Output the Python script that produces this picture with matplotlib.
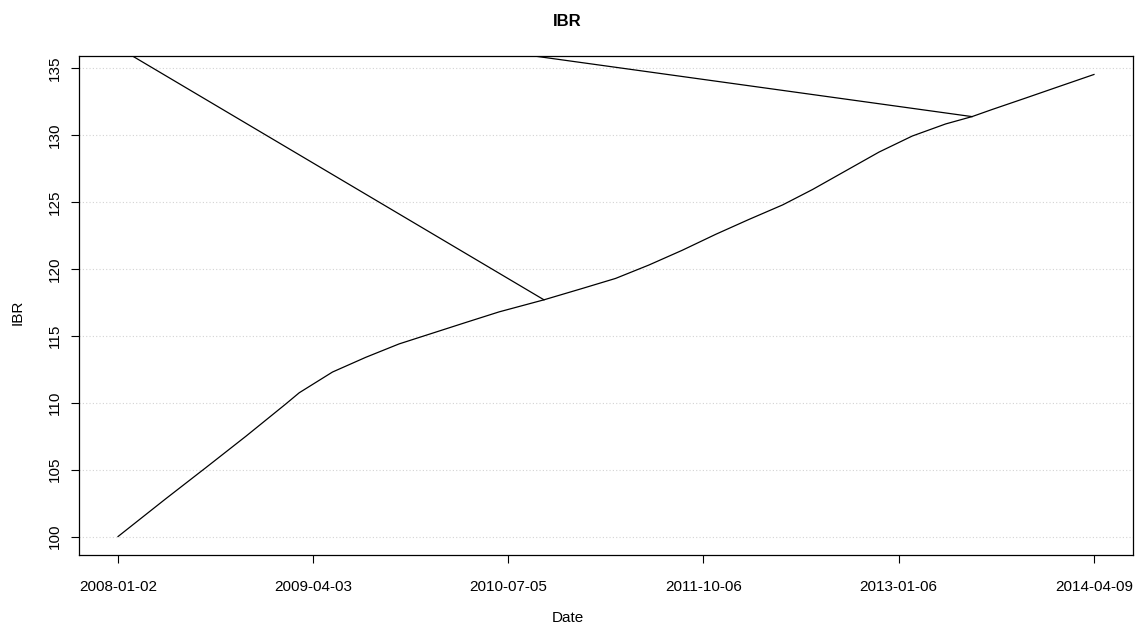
import numpy as np
import pandas as pd
from matplotlib import pyplot as plt
import matplotlib.dates as mdates

plt.rcParams['font.family'] = ['Liberation Sans', 'DejaVu Sans']

# IBR index (date, value)
dates = ['2008-01-02', '2008-04-22', '2008-07-26', '2008-10-28', '2009-01-29',
         '2009-03-02', '2009-05-19', '2009-08-05', '2009-10-22', '2010-01-08',
         '2010-03-27', '2010-06-14', '2010-09-27', '2010-12-27', '2011-03-14',
         '2011-05-31', '2011-08-17', '2011-11-04', '2012-01-20', '2012-04-09',
         '2012-06-18', '2012-09-04', '2012-11-21', '2013-02-07', '2013-04-26',
         '2013-06-27', '2013-08-13', '2013-10-31', '2014-01-17', '2014-04-09']
ibr = [100.0, 102.8, 105.15, 107.5, 109.9,
       110.75, 112.3, 113.4, 114.4, 115.2,
       116.0, 116.8, 117.7, 118.56, 119.3,
       120.3, 121.4, 122.6, 123.7, 124.8,
       125.95, 127.35, 128.75, 129.95, 130.85,
       131.4, 131.93, 132.79, 133.65, 134.55]

# rows out of order in the data -> straight jumps drawn across the plot
jump_dates = ['2010-09-27', '2008-01-02', '2010-07-05', '2013-06-27']
jump_ibr = [117.7, 136.57, 136.20, 131.4]

tick_labels = ['2008-01-02', '2009-04-03', '2010-07-05',
               '2011-10-06', '2013-01-06', '2014-04-09']
y_ticks = [100, 105, 110, 115, 120, 125, 130, 135]

x = pd.to_datetime(dates)
xj = pd.to_datetime(jump_dates)
xt = pd.to_datetime(tick_labels)

fig = plt.figure(figsize=(11.35, 6.29), dpi=100)
ax = fig.add_axes([79/1135, 1-555/629, 1054/1135, 499/629])

for yv in y_ticks:
    ax.axhline(yv, color='#d3d3d3', linestyle=(0, (1, 2)), linewidth=0.8, zorder=0)

ax.plot(x, ibr, color='black', linewidth=0.9)
ax.plot(xj, jump_ibr, color='black', linewidth=0.9)

# R style 4% padding on both axes
span = x[-1] - x[0]
ax.set_xlim(x[0] - span*0.04, x[-1] + span*0.04)
r = max(ibr) - min(ibr)
ax.set_ylim(min(ibr) - 0.04*r, max(ibr) + 0.04*r)

ax.set_xticks(xt)
ax.set_xticklabels(tick_labels)
ax.set_yticks(y_ticks)
ax.set_yticklabels([str(v) for v in y_ticks], rotation=90, va='center')
ax.tick_params(axis='x', length=6, width=0.8, pad=12, labelsize=11)
ax.tick_params(axis='y', length=6, width=0.8, pad=6, labelsize=11)
for s in ax.spines.values():
    s.set_linewidth(0.9)

fig.text(0.5, 1-22/629, 'IBR', ha='center', va='center', fontsize=12, fontweight='bold')
fig.text(0.5, 1-618/629, 'Date', ha='center', va='center', fontsize=11)
fig.text(18/1135, 1-312/629, 'IBR', ha='center', va='center', fontsize=11, rotation=90)

fig.savefig('out.png', dpi=100)
